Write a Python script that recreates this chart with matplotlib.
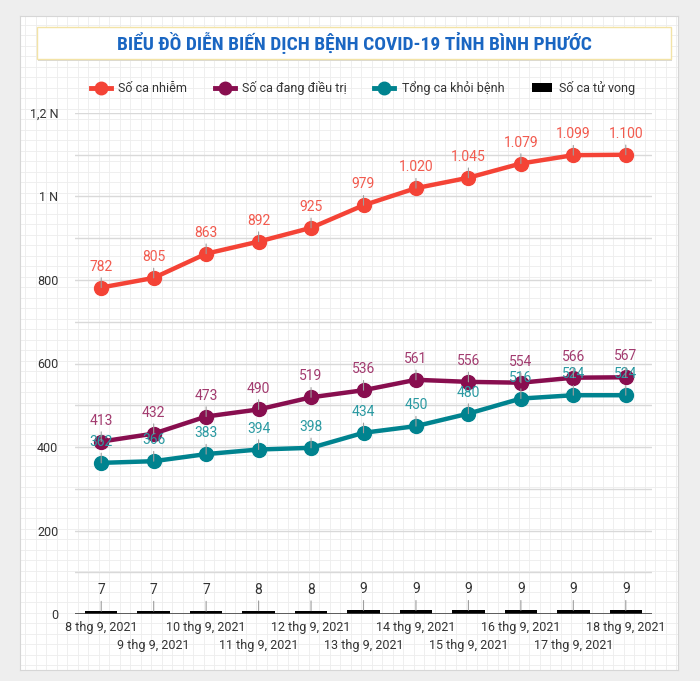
import numpy as np
import matplotlib
matplotlib.use('Agg')
import matplotlib.pyplot as plt
from matplotlib.lines import Line2D
from matplotlib.patches import Rectangle, Patch

plt.rcParams['font.family'] = ['Roboto', 'DejaVu Sans']

# %% data
dates = ['8 thg 9, 2021', '9 thg 9, 2021', '10 thg 9, 2021', '11 thg 9, 2021',
         '12 thg 9, 2021', '13 thg 9, 2021', '14 thg 9, 2021', '15 thg 9, 2021',
         '16 thg 9, 2021', '17 thg 9, 2021', '18 thg 9, 2021']
infected = [782, 805, 863, 892, 925, 979, 1020, 1045, 1079, 1099, 1100]
treating = [413, 432, 473, 490, 519, 536, 561, 556, 554, 566, 567]
recovered = [362, 366, 383, 394, 398, 434, 450, 480, 516, 524, 524]
deaths = [7, 7, 7, 8, 8, 9, 9, 9, 9, 9, 9]

series_names = ['Số ca nhiễm', 'Số ca đang điều trị', 'Tổng ca khỏi bệnh', 'Số ca tử vong']
title = 'BIỂU ĐỒ DIỄN BIẾN DỊCH BỆNH COVID-19 TỈNH BÌNH PHƯỚC'
yticks = [0, 200, 400, 600, 800, 1000, 1200]
yticklabels = ['0', '200', '400', '600', '800', '1 N', '1,2 N']

W, H = 700, 681
fig = plt.figure(figsize=(W / 100, H / 100), dpi=100, facecolor='#eeeeee')


def fx(px):
    return px / W


def fy(py):
    return 1 - py / H


# card with graph-paper background
bg = fig.add_axes([fx(20), fy(670), fx(658), 654 / H], zorder=0)
bg.set_facecolor('white')
bg.set_xlim(0, 658)
bg.set_ylim(0, 654)
for v in np.arange(5, 658, 10.5):
    bg.axvline(v, color='#ededed', lw=0.6)
for v in np.arange(5, 654, 10.5):
    bg.axhline(v, color='#ededed', lw=0.6)
bg.set_xticks([])
bg.set_yticks([])
for s in bg.spines.values():
    s.set_color('#d6d6d6')

# title box
fig.patches.append(Rectangle((fx(38), fy(61)), fx(634), 33 / H, transform=fig.transFigure,
                             facecolor='#d8d8d8', edgecolor='none', zorder=1))
fig.patches.append(Rectangle((fx(37), fy(59)), fx(634), 32 / H, transform=fig.transFigure,
                             facecolor='white', edgecolor='#f3e3a6', lw=1, zorder=2))
fig.text(fx(354), fy(43), title, ha='center', va='center', color='#1a66c2',
         fontsize=14, fontweight='bold', zorder=3,
         family=['Roboto Condensed', 'Liberation Sans Narrow', 'Roboto'])

# main plot
ax = fig.add_axes([fx(75), fy(614), fx(577), 501 / H], zorder=5)
ax.set_facecolor('none')
x = np.arange(len(dates))

c_red, c_pur, c_teal = '#f44336', '#880e4f', '#00838f'
lab_red, lab_pur, lab_teal = '#f25a4e', '#a23b6f', '#2b9aa2'

ax.bar(x, deaths, width=0.62, color='black', zorder=3)
ax.plot(x, recovered, color=c_teal, lw=3.2, marker='o', ms=10, zorder=4)
ax.plot(x, treating, color=c_pur, lw=3.2, marker='o', ms=10, zorder=5)
ax.plot(x, infected, color=c_red, lw=3.2, marker='o', ms=10, zorder=6)


def fmt(v):
    return '{:,}'.format(v).replace(',', '.')


def labels(vals, color):
    for i, v in zip(x, vals):
        ax.annotate(fmt(v), xy=(i, v), xytext=(0, 10), textcoords='offset points',
                    ha='center', va='bottom', color=color, fontsize=10, zorder=8,
                    arrowprops=dict(arrowstyle='-', color='#9e9e9e', lw=0.8,
                                    shrinkA=1, shrinkB=0))


labels(deaths, '#333333')
labels(recovered, lab_teal)
labels(treating, lab_pur)
labels(infected, lab_red)

ax.set_xlim(-0.5, len(dates) - 0.5)
ax.set_ylim(0, 1200)
ax.set_yticks(yticks)
ax.set_yticklabels(yticklabels)
ax.set_yticks(np.arange(100, 1200, 200), minor=True)
ax.grid(axis='y', which='both', color='#d9d9d9', lw=1, zorder=1)
ax.set_axisbelow(True)
ax.axhline(0, color='#444444', lw=1.2, zorder=7)
ax.set_xticks(x)
ax.set_xticklabels(dates)
ax.tick_params(axis='both', length=0, labelsize=9, colors='#333333', which='both')
ax.tick_params(axis='y', pad=12)
for i, t in enumerate(ax.xaxis.get_major_ticks()):
    t.set_pad(5 if i % 2 == 0 else 18)
for s in ax.spines.values():
    s.set_visible(False)

# legend
handles = [Line2D([], [], color=c_red, lw=3.5, marker='o', ms=9),
           Line2D([], [], color=c_pur, lw=3.5, marker='o', ms=9),
           Line2D([], [], color=c_teal, lw=3.5, marker='o', ms=9),
           Patch(facecolor='black')]
fig.legend(handles, series_names, loc='center', bbox_to_anchor=(fx(363), fy(88)), ncol=4,
           frameon=False, fontsize=9, handlelength=1.6, columnspacing=2.2, handletextpad=0.6,
           labelcolor='#333333')

plt.savefig('out.png', dpi=100, facecolor=fig.get_facecolor())
